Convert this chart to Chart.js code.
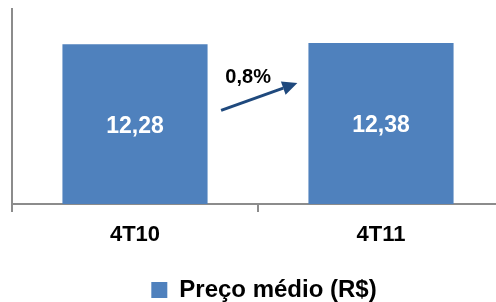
<!DOCTYPE html>
<html>
<head>
<meta charset="utf-8">
<script src="https://cdn.jsdelivr.net/npm/chart.js@4.4.0/dist/chart.umd.min.js"></script>
<style>
  html, body { margin: 0; padding: 0; background: #fff; }
  #wrap { width: 496px; height: 302px; }
</style>
</head>
<body>
<div id="wrap"><canvas id="grafico"></canvas></div>
<script>
// dados do gráfico
const categorias = ["4T10", "4T11"];
const precoMedio = [12.28, 12.38];
const rotulosBarras = ["12,28", "12,38"];
const nomeSerie = "Preço médio (R$)";
const variacaoTexto = "0,8%";
// seta de variação, em unidades do gráfico (categoria, valor)
const setaInicio = [0.35, 7.2];
const setaFim = [0.66, 9.3];
const posVariacao = [0.46, 9.75];

const fonte = "'Liberation Sans', Arial, sans-serif";

// o eixo x do original continua além da borda direita (recortado);
// a legenda fica um pouco deslocada para a direita
const ajusteLayout = {
  id: 'ajusteLayout',
  afterLayout(chart) {
    const xs = chart.scales.x;
    xs.right += 8;
    xs.width += 8;
    xs.configure();
    chart.legend.left += 20;
    chart.legend.width -= 20;
  }
};

// rótulos dentro das barras e seta com a variação
const rotulosPlugin = {
  id: 'rotulos',
  afterDatasetsDraw(chart) {
    const ctx = chart.ctx;
    const meta = chart.getDatasetMeta(0);
    const x = chart.scales.x, y = chart.scales.y;

    ctx.save();
    ctx.fillStyle = '#ffffff';
    ctx.font = `bold 23px ${fonte}`;
    ctx.textAlign = 'center';
    ctx.textBaseline = 'middle';
    meta.data.forEach((bar, i) => {
      const meio = (bar.y + bar.base) / 2;
      ctx.fillText(rotulosBarras[i], bar.x, meio + 2);
    });

    // seta
    const x1 = x.getPixelForValue(setaInicio[0]), y1 = y.getPixelForValue(setaInicio[1]);
    const x2 = x.getPixelForValue(setaFim[0]), y2 = y.getPixelForValue(setaFim[1]);
    const ang = Math.atan2(y2 - y1, x2 - x1);
    const ponta = 15, abertura = 7;
    const bx = x2 - ponta * Math.cos(ang), by = y2 - ponta * Math.sin(ang);
    ctx.strokeStyle = '#1F497D';
    ctx.fillStyle = '#1F497D';
    ctx.lineWidth = 3;
    ctx.beginPath();
    ctx.moveTo(x1, y1);
    ctx.lineTo(bx, by);
    ctx.stroke();
    ctx.beginPath();
    ctx.moveTo(x2, y2);
    ctx.lineTo(bx + abertura * Math.sin(ang), by - abertura * Math.cos(ang));
    ctx.lineTo(bx - abertura * Math.sin(ang), by + abertura * Math.cos(ang));
    ctx.closePath();
    ctx.fill();

    ctx.fillStyle = '#000000';
    ctx.font = `bold 20px ${fonte}`;
    ctx.fillText(variacaoTexto, x.getPixelForValue(posVariacao[0]), y.getPixelForValue(posVariacao[1]));
    ctx.restore();
  }
};

new Chart(document.getElementById('grafico'), {
  type: 'bar',
  data: {
    labels: categorias,
    datasets: [{
      label: nomeSerie,
      data: precoMedio,
      backgroundColor: '#4F81BD',
      borderWidth: 0,
      barPercentage: 0.59,
      categoryPercentage: 1
    }]
  },
  options: {
    responsive: true,
    maintainAspectRatio: false,
    animation: false,
    layout: { padding: { left: 12, top: 9, right: 0, bottom: -10 } },
    plugins: {
      tooltip: { enabled: false },
      legend: {
        position: 'bottom',
        labels: {
          color: '#000',
          font: { family: fonte, size: 24, weight: 'bold' },
          boxWidth: 16,
          boxHeight: 16,
          padding: 0
        }
      }
    },
    scales: {
      x: {
        offset: true,
        grid: {
          offset: true,
          drawOnChartArea: false,
          tickLength: 8,
          color: '#8c8c8c',
          lineWidth: 2
        },
        border: { color: '#8c8c8c', width: 2 },
        ticks: {
          color: '#000',
          padding: 10,
          font: { family: fonte, size: 22, weight: 'bold' }
        },
        afterFit(scale) { scale.height = 74; }
      },
      y: {
        min: 0,
        max: 15,
        grid: { display: false, drawTicks: false },
        border: { color: '#8c8c8c', width: 2 },
        ticks: { display: false }
      }
    }
  },
  plugins: [ajusteLayout, rotulosPlugin]
});
</script>
</body>
</html>
